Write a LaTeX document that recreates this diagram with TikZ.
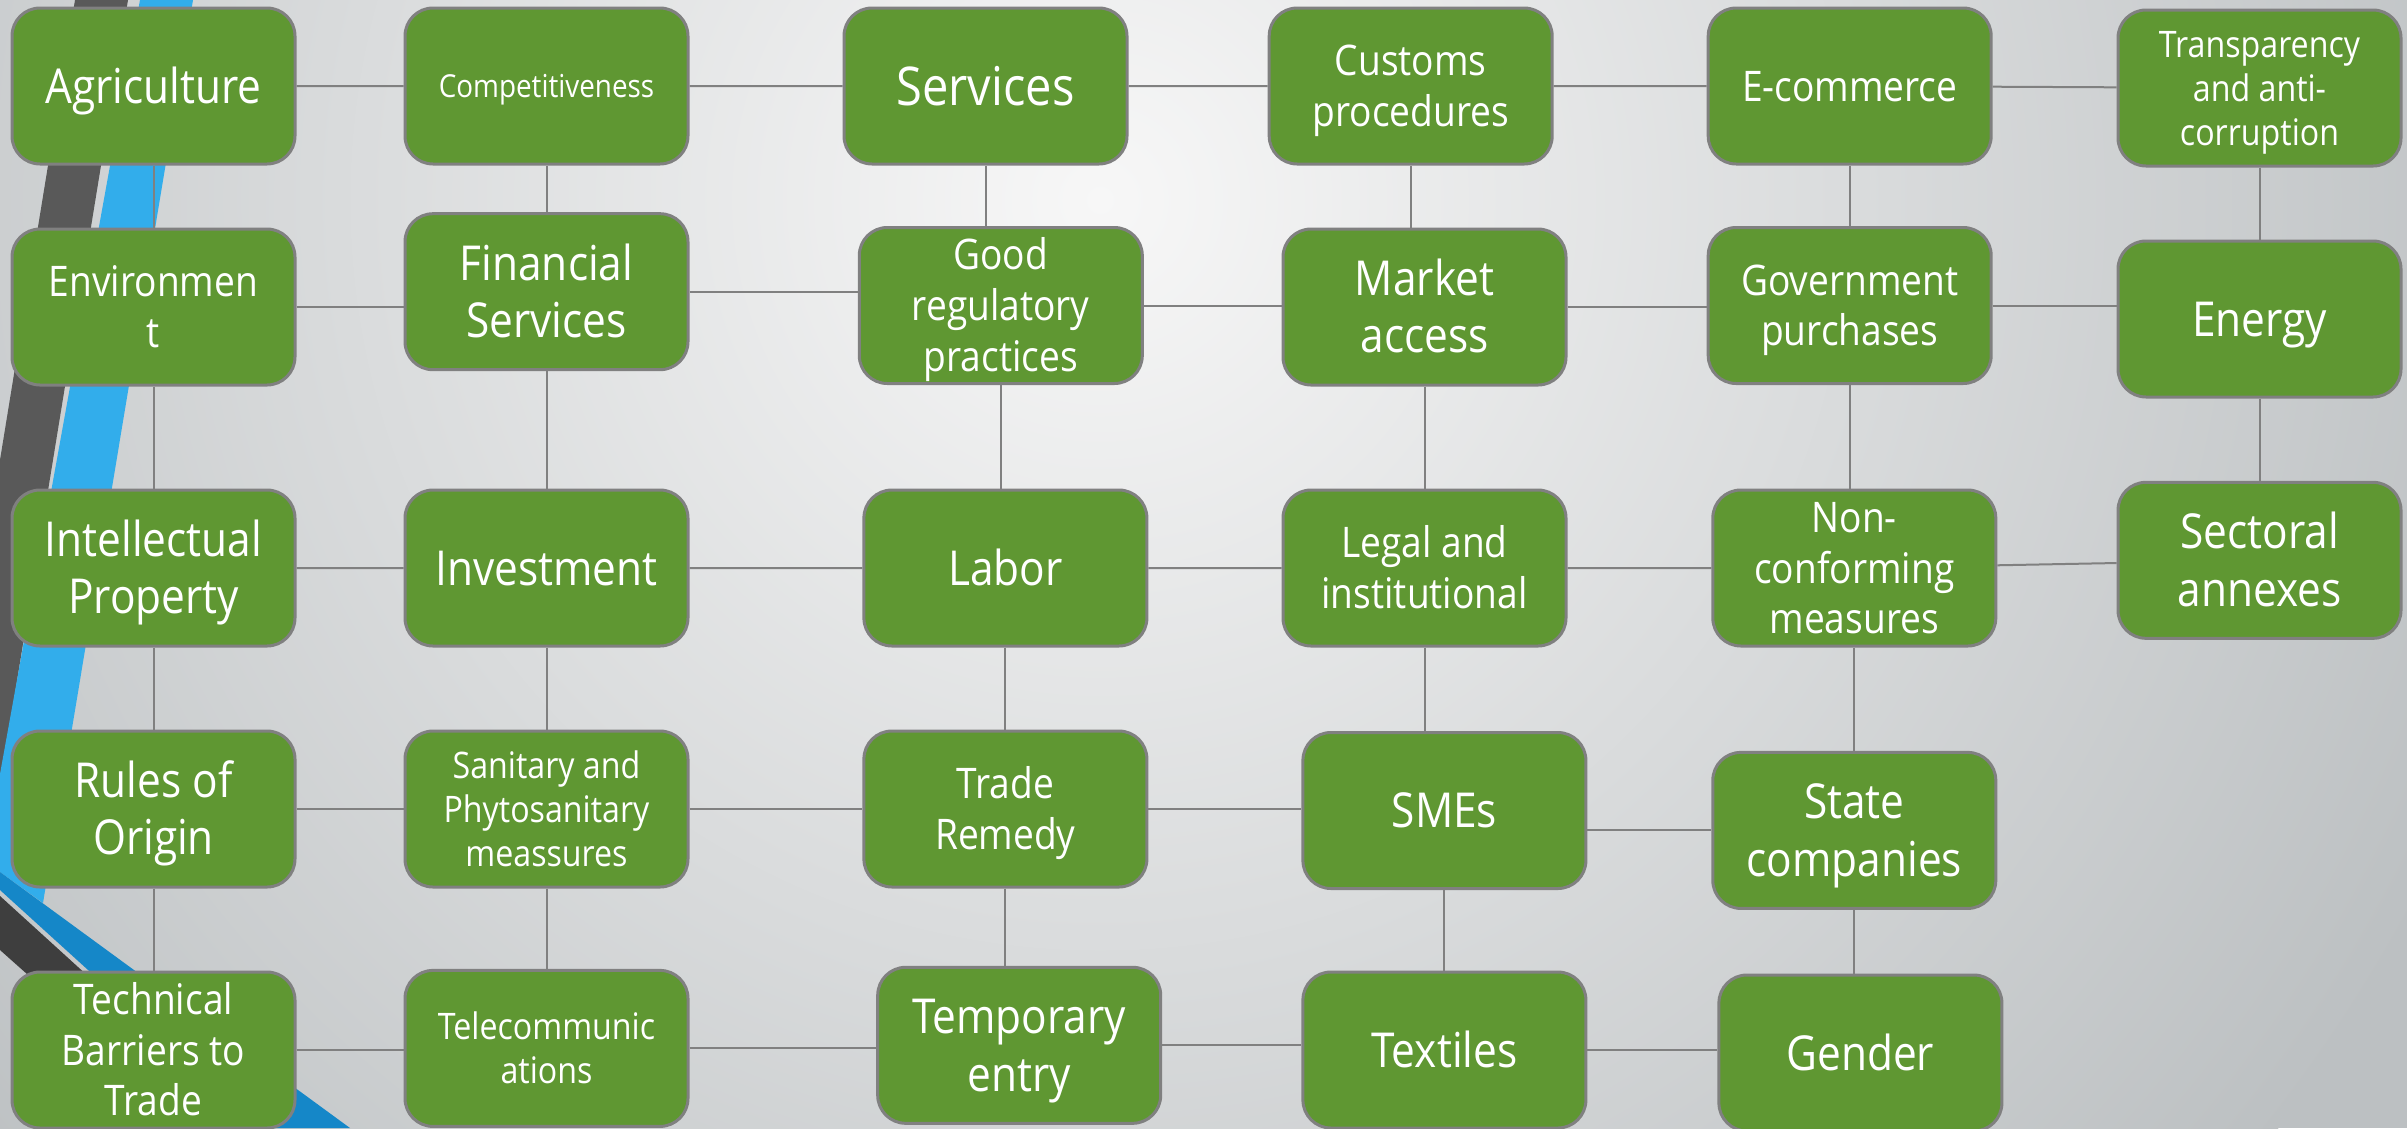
\documentclass[tikz,border=0pt]{standalone}
\usepackage{fontspec}
\setmainfont{Open Sans}[FakeStretch=0.88]
\usepackage{xcolor}
\usepackage{tikz}
\definecolor{boxgreen}{RGB}{95,151,50}
\definecolor{boxedge}{RGB}{128,128,128}
\definecolor{bgpale}{RGB}{247,247,247}
\definecolor{bgdark}{RGB}{188,192,194}
\definecolor{stripegray}{RGB}{89,89,89}
\definecolor{stripedark}{RGB}{62,62,62}
\definecolor{skyblue}{RGB}{50,173,235}
\definecolor{deepblue}{RGB}{21,135,200}
% centred lines, lowered (size kept) so the capitals sit on the box middle
\newcommand\topictext[1]{\raisebox{-.117em}[\height][\depth]{\begin{tabular}{@{}c@{}}#1\end{tabular}}}
\tikzstyle{topic}=[draw=boxedge,line width=.3mm,fill=boxgreen,text=white,rounded corners=2.8mm,minimum width=28.3mm,minimum height=15.6mm,inner sep=0pt]
\tikzstyle{link}=[draw=boxedge,line width=.2mm]
\tikzstyle{hugetxt}=[font=\fontsize{15.2}{18.2}\selectfont]
\tikzstyle{bigtxt}=[font=\fontsize{13.7}{16.4}\selectfont]
\tikzstyle{midtxt}=[font=\fontsize{12}{14.4}\selectfont]
\tikzstyle{smalltxt}=[font=\fontsize{10.4}{12.5}\selectfont]
\tikzstyle{tinytxt}=[font=\fontsize{9}{10.8}\selectfont]

\begin{document}
\begin{tikzpicture}
	\useasboundingbox (0,0) rectangle (24.07,-11.28);
	% backdrop and the two bands on the left
	\fill[bgdark] (0,0) rectangle (24.07,-11.28);
	\begin{scope}
		\clip (0,0) rectangle (24.07,-11.28);
		\shade[inner color=bgpale,outer color=bgdark] (11,-2) circle (15);
	\end{scope}
	\fill[stripegray] (0.75,0) -- (1.28,0) -- (0,-7.85) -- (0,-4.6) -- cycle;
	\fill[skyblue] (1.40,0) -- (1.93,0) -- (0.43,-9.03) -- (0,-8.72) -- (0,-7.74) -- cycle;
	\fill[deepblue] (0,-8.72) -- (3.50,-11.28) -- (2.62,-11.28) -- (0,-8.90) -- cycle;
	\fill[stripedark] (0,-8.96) -- (2.55,-11.28) -- (2.0,-11.28) -- (0,-9.5) -- cycle;

	\node[topic,bigtxt]   (agri)    at (1.535,-0.86)   {\topictext{Agriculture}};
	\node[topic,tinytxt]  (comp)    at (5.465,-0.86)   {\topictext{Competitiveness}};
	\node[topic,hugetxt]  (serv)    at (9.855,-0.86)   {\topictext{Services}};
	\node[topic,midtxt]   (cust)    at (14.107,-0.86)  {\topictext{Customs\\procedures}};
	\node[topic,midtxt]   (ecom)    at (18.497,-0.86)  {\topictext{E-commerce}};
	\node[topic,smalltxt] (trans)   at (22.595,-0.88)  {\topictext{Transparency\\and anti-\\corruption}};

	\node[topic,midtxt]   (env)     at (1.535,-3.07)   {\topictext{Environmen\\t}};
	\node[topic,bigtxt]   (fin)     at (5.465,-2.917)  {\topictext{Financial\\Services}};
	\node[topic,midtxt]   (goodreg) at (10.008,-3.055) {\topictext{Good\\regulatory\\practices}};
	\node[topic,bigtxt]   (mkt)     at (14.245,-3.07)  {\topictext{Market\\access}};
	\node[topic,midtxt]   (gov)     at (18.497,-3.055) {\topictext{Government\\purchases}};
	\node[topic,bigtxt]   (energy)  at (22.595,-3.19)  {\topictext{Energy}};

	\node[topic,bigtxt]   (ip)      at (1.535,-5.68)   {\topictext{Intellectual\\Property}};
	\node[topic,bigtxt]   (inv)     at (5.465,-5.68)   {\topictext{Investment}};
	\node[topic,bigtxt]   (labor)   at (10.054,-5.68)  {\topictext{Labor}};
	\node[topic,midtxt]   (legal)   at (14.245,-5.68)  {\topictext{Legal and\\institutional}};
	\node[topic,midtxt]   (noncf)   at (18.543,-5.68)  {\topictext{Non-\\conforming\\measures}};
	\node[topic,bigtxt]   (sect)    at (22.595,-5.603) {\topictext{Sectoral\\annexes}};

	\node[topic,bigtxt]   (roo)     at (1.535,-8.09)   {\topictext{Rules of\\Origin}};
	\node[topic,smalltxt] (sps)     at (5.465,-8.09)   {\topictext{Sanitary and\\Phytosanitary\\meassures}};
	\node[topic,midtxt]   (trem)    at (10.054,-8.09)  {\topictext{Trade\\Remedy}};
	\node[topic,bigtxt]   (sme)     at (14.444,-8.105) {\topictext{SMEs}};
	\node[topic,bigtxt]   (soe)     at (18.543,-8.304) {\topictext{State\\companies}};

	\node[topic,midtxt]   (tbt)     at (1.535,-10.5)   {\topictext{Technical\\Barriers to\\Trade}};
	\node[topic,smalltxt] (tel)     at (5.465,-10.484) {\topictext{Telecommunic\\ations}};
	\node[topic,bigtxt]   (temp)    at (10.192,-10.453){\topictext{Temporary\\entry}};
	\node[topic,bigtxt]   (tex)     at (14.444,-10.5)  {\topictext{Textiles}};
	\node[topic,bigtxt]   (gender)  at (18.604,-10.53) {\topictext{Gender}};

	% rows, level with the left box
	\draw[link] (agri) -- (agri -| comp.west) (comp) -- (comp -| serv.west) (serv) -- (serv -| cust.west)
		(cust) -- (cust -| ecom.west) (ecom) -- (trans);
	\draw[link] (env) -- (env -| fin.west) (fin) -- (fin -| goodreg.west) (goodreg) -- (goodreg -| mkt.west)
		(mkt) -- (mkt -| gov.west) (gov) -- (gov -| energy.west);
	\draw[link] (ip) -- (ip -| inv.west) (inv) -- (inv -| labor.west) (labor) -- (labor -| legal.west)
		(legal) -- (legal -| noncf.west) (noncf) -- (sect);
	\draw[link] (roo) -- (roo -| sps.west) (sps) -- (sps -| trem.west) (trem) -- (trem -| sme.west)
		(soe -| sme.east) -- (soe);
	\draw[link] (tbt) -- (tbt -| tel.west) (tel) -- (tel -| temp.west) (temp) -- (temp -| tex.west)
		(tex) -- (tex -| gender.west);
	% columns, straight down from the upper box
	\draw[link] (agri) -- (agri |- env.north) (env) -- (env |- ip.north) (ip) -- (ip |- roo.north) (roo) -- (roo |- tbt.north);
	\draw[link] (comp) -- (comp |- fin.north) (fin) -- (fin |- inv.north) (inv) -- (inv |- sps.north) (sps) -- (sps |- tel.north);
	\draw[link] (serv) -- (serv |- goodreg.north) (goodreg) -- (goodreg |- labor.north) (labor) -- (labor |- trem.north)
		(trem) -- (trem |- temp.north);
	\draw[link] (cust) -- (cust |- mkt.north) (mkt) -- (mkt |- legal.north) (legal) -- (legal |- sme.north) (sme) -- (sme |- tex.north);
	\draw[link] (ecom) -- (ecom |- gov.north) (gov) -- (gov |- noncf.north) (noncf) -- (noncf |- soe.north)
		(soe) -- (soe |- gender.north);
	\draw[link] (trans) -- (trans |- energy.north) (energy) -- (energy |- sect.north);
\end{tikzpicture}
\end{document}
